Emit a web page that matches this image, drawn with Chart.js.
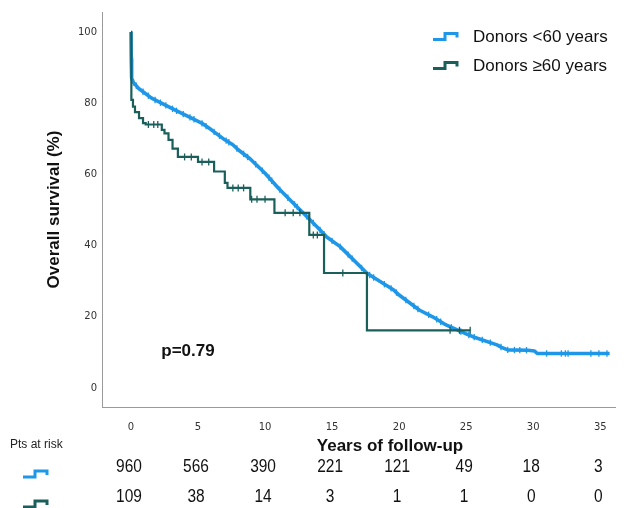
<!DOCTYPE html>
<html>
<head>
<meta charset="utf-8">
<script src="https://cdn.jsdelivr.net/npm/chart.js@4.4.0/dist/chart.umd.min.js"></script>
<style>
html, body { margin: 0; padding: 0; background: #fff; }
</style>
</head>
<body>
<canvas id="km" width="642" height="508"></canvas>
<script>
const seriesNames = ['Donors <60 years', 'Donors \u226560 years'];
const seriesColors = ['#1f97e8', '#1b5f5b'];

// donors < 60 years: many tiny steps, so read as a dense curve (years, %)
const youngTimes = [0, 0.02, 0.05, 0.15, 0.55, 1.54, 2.53, 3.53, 4.52, 5.27, 6.0, 7.0, 7.6, 8.0, 8.9, 10.0, 11.0, 12.0, 13.0, 14.0, 14.6, 15.6, 17.6, 19.6, 20.0, 21.5, 22.5, 23.5, 25.0, 25.5, 27.3, 27.6, 28.1, 29.6, 30.1, 30.3, 35.7];
const youngSurv = [100, 92.5, 87.0, 86.0, 84.2, 81.4, 79.5, 77.6, 75.8, 74.4, 72.5, 69.7, 68.3, 66.9, 64.3, 60.3, 56.1, 52.3, 48.6, 44.8, 42.4, 39.7, 32.2, 27.5, 26.1, 21.9, 20.0, 17.7, 15.2, 14.4, 12.1, 11.5, 10.7, 10.6, 10.4, 9.7, 9.7];
const youngCensor = [0.2, 0.4, 0.9, 1.3, 1.8, 2.2, 2.6, 3.1, 3.4, 3.9, 4.4, 4.7, 5.3, 5.6, 6.2, 6.6, 7.1, 7.3, 7.9, 8.4, 8.7, 9.3, 9.8, 10.3, 10.5, 11.1, 11.7, 12.2, 12.4, 13.1, 13.6, 14.1, 14.4, 15.0, 15.6, 16.2, 16.5, 17.2, 17.8, 18.1, 18.9, 19.4, 19.8, 20.5, 21.1, 21.4, 22.2, 22.8, 23.1, 23.9, 24.6, 25.2, 25.6, 26.2, 26.8, 27.6, 28.1, 28.6, 29.0, 29.5, 31.0, 32.1, 32.4, 32.6, 34.3, 34.9, 35.5];

// donors >= 60 years: step curve (years, %)
const oldTimes = [0, 0.03, 0.15, 0.3, 0.6, 0.9, 1.1, 2.3, 2.5, 2.8, 3.1, 3.5, 5.0, 6.2, 7.0, 7.2, 8.9, 10.7, 13.3, 14.4, 17.6, 25.3];
const oldSurv = [100, 80.9, 79.0, 77.5, 75.8, 74.4, 74.0, 72.5, 71.5, 69.7, 67.2, 64.9, 63.5, 60.8, 57.6, 56.2, 53.0, 49.2, 43.0, 32.3, 16.2, 16.2];
const oldCensor = [1.3, 1.7, 2.0, 4.0, 4.5, 5.3, 5.8, 7.6, 8.0, 8.4, 9.0, 9.4, 10.0, 11.5, 12.1, 12.6, 13.6, 13.9, 15.8, 23.8, 24.5, 25.3];

const xTicks = [0, 5, 10, 15, 20, 25, 30, 35];
const yTicks = [0, 20, 40, 60, 80, 100];
const riskYoung = [960, 566, 390, 221, 121, 49, 18, 3];
const riskOld = [109, 38, 14, 3, 1, 1, 0, 0];
const pValue = 'p=0.79';

// value of a step curve at time t
function stepAt(times, surv, t) {
  let v = surv[0];
  for (let i = 0; i < times.length; i++) {
    if (times[i] <= t) v = surv[i];
  }
  return v;
}

// value of the dense curve at time t (it is drawn as a polyline)
function lineAt(times, surv, t) {
  for (let i = 1; i < times.length; i++) {
    if (t <= times[i]) {
      const f = (t - times[i - 1]) / (times[i] - times[i - 1]);
      return surv[i - 1] + f * (surv[i] - surv[i - 1]);
    }
  }
  return surv[surv.length - 1];
}

function curve(times, surv) {
  return times.map((t, i) => ({ x: t, y: surv[i] }));
}

function drawStep(ctx, x, y, color) {
  ctx.beginPath();
  ctx.strokeStyle = color;
  ctx.lineWidth = 3;
  ctx.moveTo(x, y + 3);
  ctx.lineTo(x + 12, y + 3);
  ctx.lineTo(x + 12, y - 3);
  ctx.lineTo(x + 24, y - 3);
  ctx.lineTo(x + 24, y + 1);
  ctx.stroke();
}

const extras = {
  id: 'extras',
  afterDraw(chart) {
    const ctx = chart.ctx;
    const xs = chart.scales.x;
    ctx.save();
    ctx.fillStyle = '#111';
    ctx.textBaseline = 'middle';

    // legend
    ctx.font = '17px "Liberation Sans"';
    ctx.textAlign = 'left';
    drawStep(ctx, 433, 36.5, seriesColors[0]);
    ctx.fillText(seriesNames[0], 473, 37);
    drawStep(ctx, 433, 65.5, seriesColors[1]);
    ctx.fillText(seriesNames[1], 473, 66);

    // p value
    ctx.font = 'bold 17px "Liberation Sans"';
    ctx.textAlign = 'center';
    ctx.fillText(pValue, 188, 351);

    // x axis title
    ctx.fillText('Years of follow-up', 390, 446);

    // numbers at risk
    ctx.font = '12px "Liberation Sans"';
    ctx.textAlign = 'left';
    ctx.fillStyle = '#222';
    ctx.fillText('Pts at risk', 10, 445);
    drawStep(ctx, 23, 474, seriesColors[0]);
    drawStep(ctx, 23, 504, seriesColors[1]);

    ctx.font = '18px "Liberation Sans"';
    ctx.textAlign = 'center';
    ctx.fillStyle = '#111';
    xTicks.forEach((t, i) => {
      const px = xs.getPixelForValue(t) - 2;
      ctx.save();
      ctx.translate(px, 0);
      ctx.scale(0.86, 1);
      ctx.fillText(String(riskYoung[i]), 0, 467);
      ctx.fillText(String(riskOld[i]), 0, 497);
      ctx.restore();
    });
    ctx.restore();
  }
};

new Chart(document.getElementById('km'), {
  type: 'scatter',
  data: {
    datasets: [
      {
        label: seriesNames[1] + ' censored',
        data: oldCensor.map(t => ({ x: t, y: stepAt(oldTimes, oldSurv, t) })),
        showLine: false,
        pointStyle: 'line',
        rotation: 90,
        radius: 3.5,
        borderWidth: 1.3,
        borderColor: seriesColors[1],
        order: 0
      },
      {
        label: seriesNames[1],
        data: curve(oldTimes, oldSurv),
        showLine: true,
        stepped: true,
        borderColor: seriesColors[1],
        borderWidth: 2.2,
        pointRadius: 0,
        order: 1
      },
      {
        label: seriesNames[0] + ' censored',
        data: youngCensor.map(t => ({ x: t, y: lineAt(youngTimes, youngSurv, t) })),
        showLine: false,
        pointStyle: 'line',
        rotation: 90,
        radius: 3.2,
        borderWidth: 1.3,
        borderColor: seriesColors[0],
        order: 2
      },
      {
        label: seriesNames[0],
        data: curve(youngTimes, youngSurv),
        showLine: true,
        borderColor: seriesColors[0],
        borderWidth: 3.6,
        borderJoinStyle: 'round',
        pointRadius: 0,
        order: 3
      }
    ]
  },
  options: {
    responsive: false,
    animation: false,
    layout: { padding: { left: 44, top: 12, right: 27, bottom: 71 } },
    plugins: {
      legend: { display: false },
      tooltip: { enabled: false }
    },
    scales: {
      x: {
        type: 'linear',
        min: -2.16,
        max: 36.1,
        afterBuildTicks: s => { s.ticks = xTicks.map(v => ({ value: v })); },
        afterFit: s => { s.height = 30; },
        grid: { display: false, drawTicks: false },
        border: { display: true, color: '#9a9a9a', width: 1 },
        ticks: {
          padding: 14,
          maxRotation: 0,
          autoSkip: false,
          color: '#333',
          font: { family: 'DejaVu Sans', size: 10 }
        }
      },
      y: {
        type: 'linear',
        min: -5.34,
        max: 105.6,
        afterBuildTicks: s => { s.ticks = yTicks.map(v => ({ value: v })); },
        afterFit: s => { s.width = 58; },
        grid: { display: false, drawTicks: false },
        border: { display: true, color: '#9a9a9a', width: 1 },
        title: {
          display: true,
          text: 'Overall survival (%)',
          color: '#111',
          padding: 0,
          font: { family: 'Liberation Sans', size: 17, weight: 'bold' }
        },
        ticks: {
          padding: 5,
          autoSkip: false,
          color: '#333',
          font: { family: 'DejaVu Sans', size: 10 }
        }
      }
    }
  },
  plugins: [extras]
});
</script>
</body>
</html>
